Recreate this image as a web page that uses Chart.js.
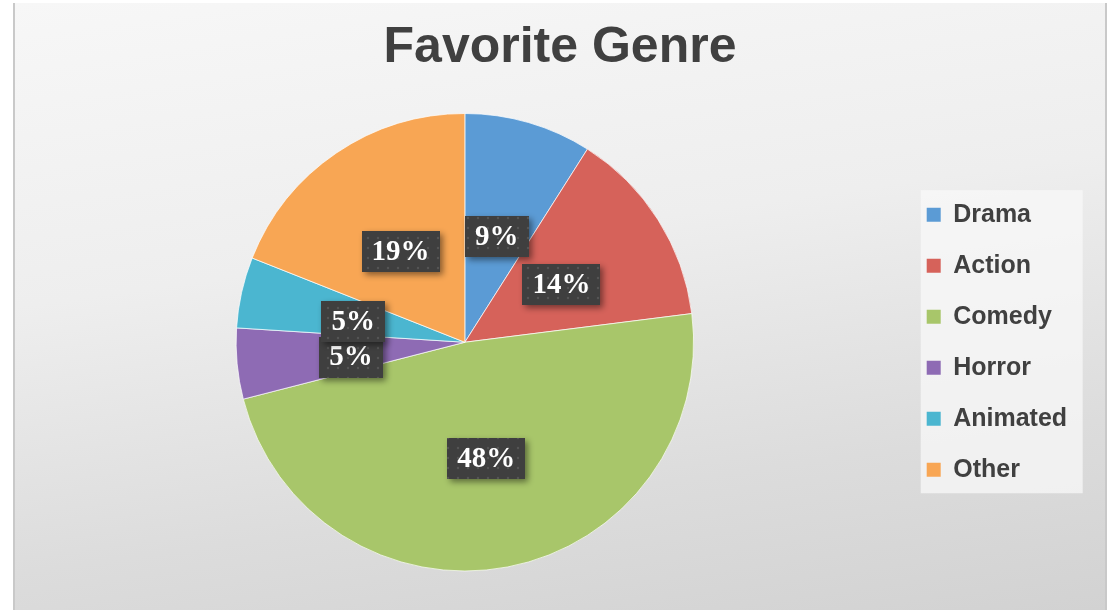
<!DOCTYPE html>
<html>
<head>
<meta charset="utf-8">
<title>Favorite Genre</title>
<script src="https://cdn.jsdelivr.net/npm/chart.js@4"></script>
<style>
  html, body { margin: 0; padding: 0; background: #ffffff; }
  .frame {
    position: absolute;
    left: 13px; top: 3px;
    width: 1094px; height: 607px;
    background: linear-gradient(172deg, #f7f7f7 0%, #eeeeee 40%, #dcdcdc 75%, #d2d2d2 100%);
    box-shadow: inset 2px 0 0 #c9c9c9, inset -2px 0 0 #c9c9c9;
  }
  canvas { display: block; }
</style>
</head>
<body>
<div class="frame">
  <canvas id="genre-chart" width="1094" height="607"></canvas>
</div>
<script>
(function () {
  'use strict';

  // Chart data
  var genres = ['Drama', 'Action', 'Comedy', 'Horror', 'Animated', 'Other'];
  var shares = [9, 14, 48, 5, 5, 19];
  var sliceColors = ['#5b9bd5', '#d6625a', '#a8c66a', '#8e6bb4', '#4bb6d0', '#f8a654'];

  var TEXT = '#404040';

  // dotted dark fill used behind the percentage labels
  function dotPattern(ctx) {
    var c = document.createElement('canvas');
    c.width = c.height = 10;
    var g = c.getContext('2d');
    g.fillStyle = '#3f3f3f';
    g.fillRect(0, 0, 10, 10);
    g.fillStyle = '#565656';
    g.beginPath();
    g.arc(5, 5, 1.2, 0, Math.PI * 2);
    g.fill();
    return ctx.createPattern(c, 'repeat');
  }

  // light panel behind the legend
  var legendPanel = {
    id: 'legendPanel',
    beforeDraw: function (chart) {
      var boxes = chart.legend && chart.legend.legendHitBoxes;
      if (!boxes || !boxes.length) return;
      var first = boxes[0], last = boxes[boxes.length - 1];
      var ctx = chart.ctx;
      ctx.save();
      ctx.fillStyle = 'rgba(248,248,248,0.75)';
      ctx.fillRect(first.left - 6, first.top - 12, 162, last.top + last.height - first.top + 23);
      ctx.restore();
    }
  };

  // percentage boxes on the slices
  var sliceLabels = {
    id: 'sliceLabels',
    afterDatasetsDraw: function (chart) {
      var ctx = chart.ctx;
      var meta = chart.getDatasetMeta(0);
      var total = shares.reduce(function (a, b) { return a + b; }, 0);
      var fill = dotPattern(ctx);
      ctx.save();
      ctx.font = 'bold 29px "Liberation Serif"';
      ctx.textAlign = 'center';
      ctx.textBaseline = 'middle';
      meta.data.forEach(function (arc, i) {
        var p = arc.tooltipPosition();
        var y = p.y + 4;
        var text = Math.round(shares[i] / total * 100) + '%';
        var w = ctx.measureText(text).width + 20;
        var h = 41;
        ctx.save();
        ctx.shadowColor = 'rgba(0,0,0,0.45)';
        ctx.shadowBlur = 6;
        ctx.shadowOffsetX = 3;
        ctx.shadowOffsetY = 3;
        ctx.fillStyle = fill;
        ctx.fillRect(Math.round(p.x - w / 2), Math.round(y - h / 2), Math.round(w), h);
        ctx.restore();
        ctx.fillStyle = '#ffffff';
        ctx.fillText(text, p.x, y + 1);
      });
      ctx.restore();
    }
  };

  var canvas = document.getElementById('genre-chart');

  new Chart(canvas.getContext('2d'), {
    type: 'pie',
    data: {
      labels: genres,
      datasets: [{
        data: shares,
        backgroundColor: sliceColors,
        borderColor: 'rgba(255,255,255,0.7)',
        borderWidth: 1
      }]
    },
    options: {
      responsive: false,
      animation: false,
      devicePixelRatio: 1,
      layout: { padding: { left: 16, right: 16, top: 0, bottom: 38.5 } },
      plugins: {
        tooltip: { enabled: false },
        title: {
          display: true,
          text: 'Favorite Genre',
          color: TEXT,
          font: { family: '"Liberation Sans", Arial, sans-serif', size: 50, weight: 'bold' },
          padding: { top: 15, bottom: 35 }
        },
        legend: {
          position: 'right',
          fullSize: false,
          labels: {
            color: TEXT,
            font: { family: '"Liberation Sans", Arial, sans-serif', size: 25, weight: 'bold' },
            boxWidth: 14,
            boxHeight: 14,
            padding: 26,
            generateLabels: function (chart) {
              var items = Chart.overrides.pie.plugins.legend.labels.generateLabels(chart);
              items.forEach(function (it) {
                it.text = it.text + '  ';
                it.lineWidth = 0;
              });
              return items;
            }
          }
        }
      }
    },
    plugins: [legendPanel, sliceLabels]
  });
})();
</script>
</body>
</html>
